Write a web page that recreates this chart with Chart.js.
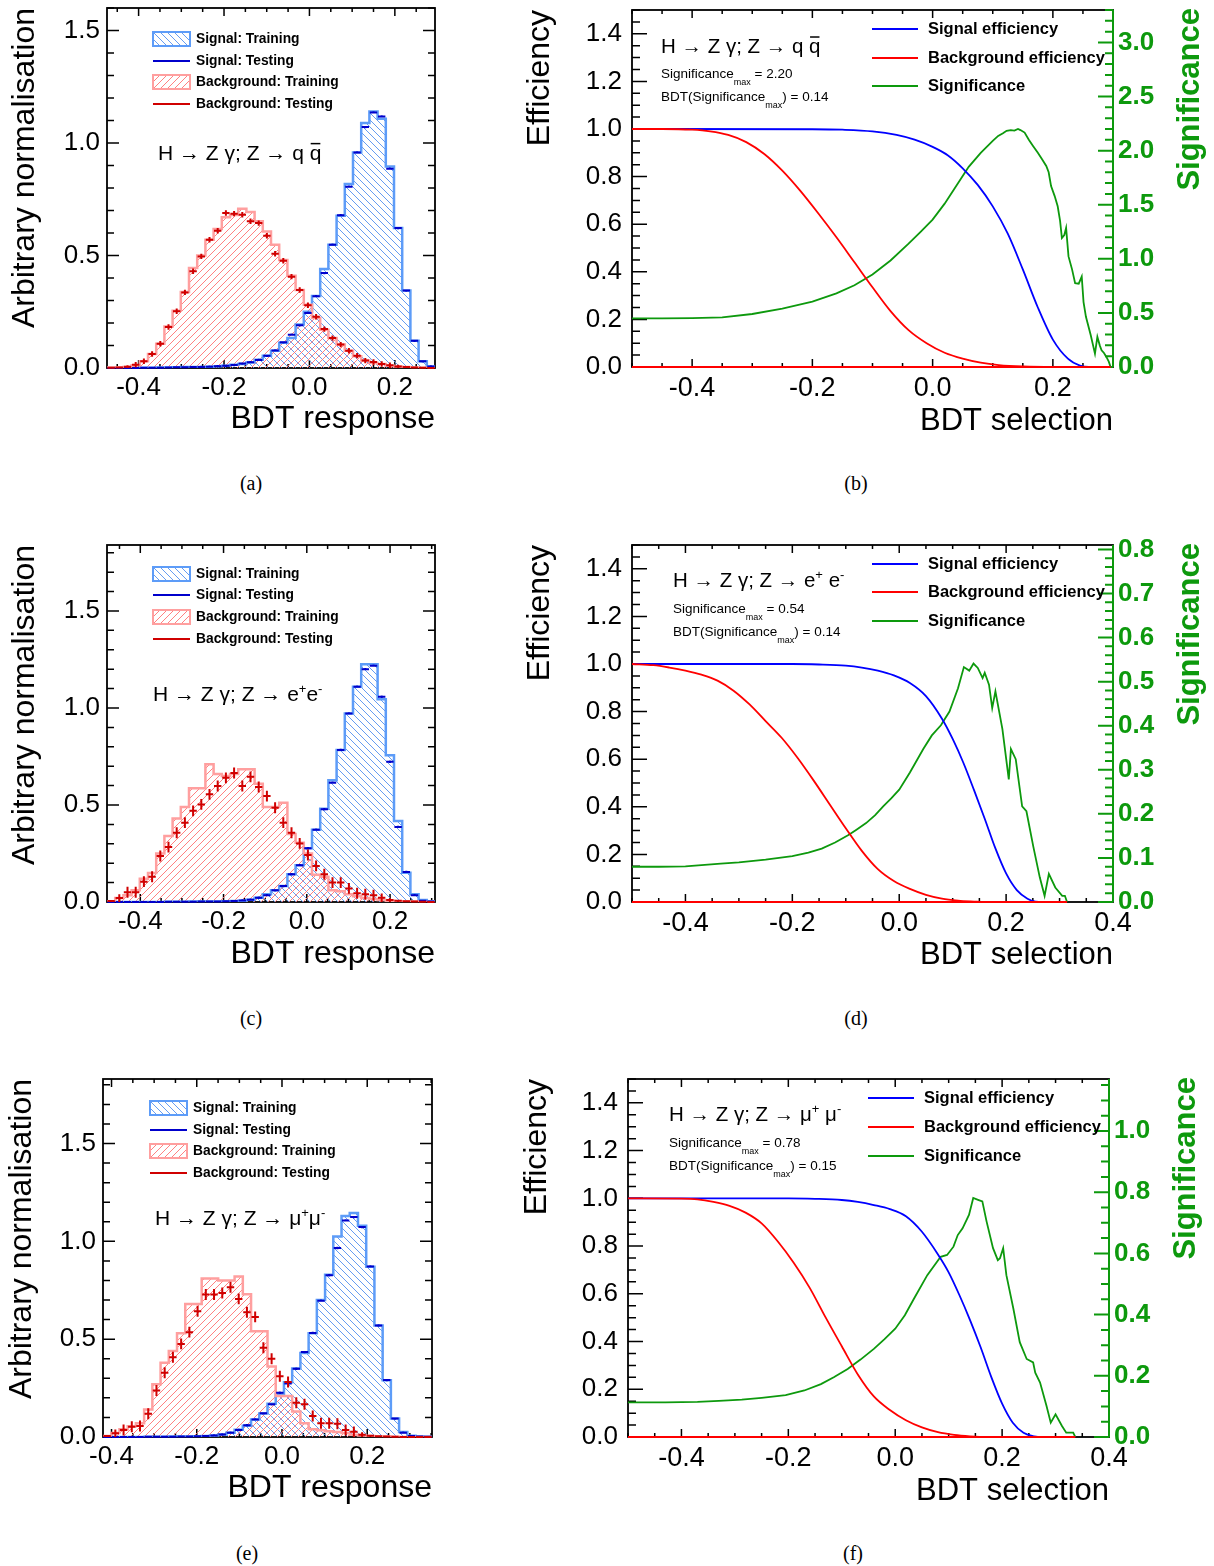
<!DOCTYPE html>
<html>
<head>
<meta charset="utf-8">
<script src="https://cdn.jsdelivr.net/npm/chart.js@4.4.0/dist/chart.umd.min.js"></script>
<style>
  body { margin: 0; background: #fff; }
  #page { position: relative; width: 1214px; height: 1566px; overflow: hidden; }
  canvas { position: absolute; }
  .cap { position: absolute; font: 20px 'Liberation Serif', 'Times New Roman', serif; transform: translate(-50%, -50%); }
</style>
</head>
<body>
<div id="page">
  <canvas id="pa" width="470" height="450" style="left:0px;top:0px"></canvas>
  <canvas id="pb" width="714" height="450" style="left:500px;top:0px"></canvas>
  <canvas id="pc" width="470" height="450" style="left:0px;top:535px"></canvas>
  <canvas id="pd" width="714" height="450" style="left:500px;top:535px"></canvas>
  <canvas id="pe" width="470" height="450" style="left:0px;top:1070px"></canvas>
  <canvas id="pf" width="714" height="450" style="left:500px;top:1070px"></canvas>
  <div class="cap" style="left:251px;top:483px">(a)</div>
  <div class="cap" style="left:856px;top:483px">(b)</div>
  <div class="cap" style="left:251px;top:1018px">(c)</div>
  <div class="cap" style="left:856px;top:1018px">(d)</div>
  <div class="cap" style="left:247px;top:1553px">(e)</div>
  <div class="cap" style="left:853px;top:1553px">(f)</div>
</div>
<script>
// ---- BDT response histograms (40 bins each) ----
const rangeA = [-0.474, 0.294];
const sigTrainA = [0, 0, 0, 0, 0.001, 0.001, 0.002, 0.002, 0.003, 0.004,
  0.004, 0.005, 0.006, 0.008, 0.01, 0.014, 0.018, 0.025, 0.037, 0.055,
  0.077, 0.112, 0.133, 0.193, 0.25, 0.32, 0.44, 0.548, 0.677, 0.818,
  0.958, 1.089, 1.14, 1.108, 0.896, 0.622, 0.344, 0.121, 0.03, 0.007];
const sigTestA = [0, 0, 0, 0, 0.001, 0.001, 0.001, 0.002, 0.003, 0.003,
  0.004, 0.005, 0.006, 0.008, 0.01, 0.013, 0.02, 0.026, 0.036, 0.054,
  0.078, 0.114, 0.148, 0.19, 0.245, 0.319, 0.422, 0.548, 0.679, 0.806,
  0.958, 1.071, 1.136, 1.118, 0.886, 0.622, 0.344, 0.121, 0.03, 0.007];
const bkgTrainA = [0.002, 0.003, 0.005, 0.012, 0.03, 0.062, 0.108, 0.185, 0.255, 0.338,
  0.444, 0.5, 0.57, 0.618, 0.67, 0.68, 0.708, 0.693, 0.652, 0.607,
  0.548, 0.48, 0.41, 0.347, 0.281, 0.222, 0.17, 0.133, 0.104, 0.077,
  0.052, 0.033, 0.022, 0.018, 0.01, 0.007, 0.004, 0.002, 0.001, 0];
const bkgTestA = [0.001, 0.002, 0.006, 0.015, 0.03, 0.062, 0.108, 0.182, 0.252, 0.336,
  0.43, 0.496, 0.57, 0.61, 0.689, 0.686, 0.681, 0.652, 0.644, 0.588,
  0.508, 0.477, 0.406, 0.347, 0.279, 0.228, 0.173, 0.133, 0.104, 0.077,
  0.055, 0.033, 0.027, 0.018, 0.012, 0.007, 0.004, 0.002, 0.001, 0];
const errA = [0.005, 0.012]; // signal, background test error

const rangeC = [-0.48, 0.308];
const sigTrainC = [0, 0, 0, 0, 0, 0, 0, 0.001, 0.001, 0.001,
  0.002, 0.002, 0.003, 0.003, 0.004, 0.005, 0.007, 0.012, 0.022, 0.04,
  0.06, 0.082, 0.143, 0.19, 0.277, 0.373, 0.481, 0.627, 0.784, 0.972,
  1.11, 1.225, 1.225, 1.045, 0.756, 0.418, 0.151, 0.04, 0.01, 0.004];
const sigTestC = [0, 0, 0, 0, 0, 0, 0, 0.001, 0.001, 0.001,
  0.001, 0.002, 0.002, 0.003, 0.004, 0.005, 0.008, 0.012, 0.022, 0.035,
  0.06, 0.082, 0.143, 0.19, 0.277, 0.373, 0.478, 0.615, 0.784, 0.972,
  1.11, 1.2, 1.218, 1.058, 0.723, 0.387, 0.155, 0.035, 0.006, 0.002];
const bkgTrainC = [0.004, 0.02, 0.035, 0.06, 0.12, 0.15, 0.25, 0.34, 0.43, 0.49,
  0.586, 0.586, 0.71, 0.66, 0.65, 0.66, 0.684, 0.684, 0.61, 0.49,
  0.49, 0.512, 0.35, 0.305, 0.25, 0.14, 0.13, 0.06, 0.055, 0.04,
  0.03, 0.02, 0.015, 0.01, 0.006, 0.004, 0.003, 0.002, 0.001, 0];
const bkgTestC = [0.005, 0.02, 0.05, 0.05, 0.105, 0.13, 0.237, 0.283, 0.357, 0.409,
  0.47, 0.503, 0.555, 0.598, 0.64, 0.665, 0.598, 0.645, 0.593, 0.546,
  0.486, 0.409, 0.357, 0.302, 0.242, 0.186, 0.143, 0.1, 0.1, 0.07,
  0.045, 0.04, 0.035, 0.022, 0.01, 0.006, 0.004, 0.002, 0.001, 0];
const errC = [0.006, 0.028];

const rangeE = [-0.42, 0.352];
const sigTrainE = [0, 0, 0, 0, 0, 0.001, 0.001, 0.001, 0.002, 0.002,
  0.003, 0.004, 0.005, 0.008, 0.013, 0.022, 0.037, 0.058, 0.09, 0.12,
  0.17, 0.22, 0.28, 0.35, 0.43, 0.53, 0.7, 0.83, 1.025, 1.13,
  1.145, 1.08, 0.87, 0.57, 0.29, 0.095, 0.025, 0.006, 0.002, 0.001];
const sigTestE = [0, 0, 0, 0, 0, 0.001, 0.001, 0.001, 0.001, 0.002,
  0.003, 0.004, 0.005, 0.008, 0.013, 0.022, 0.036, 0.06, 0.09, 0.121,
  0.167, 0.226, 0.274, 0.349, 0.434, 0.532, 0.697, 0.827, 0.966, 1.107,
  1.124, 1.073, 0.872, 0.57, 0.291, 0.094, 0.022, 0.005, 0.002, 0.001];
const bkgTrainE = [0.005, 0.02, 0.04, 0.055, 0.07, 0.14, 0.27, 0.38, 0.44, 0.53,
  0.68, 0.68, 0.81, 0.81, 0.8, 0.8, 0.82, 0.73, 0.54, 0.54,
  0.36, 0.21, 0.21, 0.13, 0.07, 0.04, 0.035, 0.03, 0.025, 0.02,
  0.012, 0.008, 0.005, 0.003, 0.002, 0.001, 0, 0, 0, 0];
const bkgTestE = [0.005, 0.019, 0.036, 0.052, 0.056, 0.119, 0.238, 0.328, 0.408, 0.476,
  0.536, 0.643, 0.728, 0.728, 0.736, 0.765, 0.706, 0.638, 0.614, 0.456,
  0.4, 0.311, 0.281, 0.175, 0.167, 0.107, 0.07, 0.07, 0.068, 0.036,
  0.027, 0.012, 0.006, 0.004, 0.002, 0.001, 0, 0, 0, 0];
const errE = [0.006, 0.028];

// ---- efficiency / significance vs BDT cut ----
const sigEffXB = [-0.5, -0.2, -0.15, -0.1, -0.06, -0.03, 0, 0.025, 0.05, 0.075, 0.1, 0.125, 0.15, 0.175, 0.2, 0.225, 0.245, 0.26, 0.296];
const sigEffB = [1, 0.999, 0.997, 0.99, 0.975, 0.955, 0.925, 0.89, 0.835, 0.765, 0.675, 0.56, 0.41, 0.25, 0.115, 0.035, 0.006, 0, 0];
const bkgEffXB = [-0.5, -0.45, -0.4, -0.37, -0.34, -0.31, -0.28, -0.25, -0.22, -0.19, -0.16, -0.13, -0.1, -0.07, -0.04, -0.01, 0.02, 0.05, 0.08, 0.11, 0.15, 0.2, 0.296];
const bkgEffB = [1, 1, 0.997, 0.99, 0.975, 0.945, 0.895, 0.825, 0.74, 0.645, 0.545, 0.44, 0.335, 0.235, 0.155, 0.1, 0.06, 0.035, 0.018, 0.008, 0.002, 0, 0];
const signifXB = [-0.5, -0.45, -0.4, -0.35, -0.3, -0.25, -0.2, -0.16, -0.13, -0.1, -0.07, -0.04, -0.02, 0, 0.02, 0.04, 0.06, 0.08, 0.1, 0.109, 0.117, 0.123, 0.13, 0.136, 0.142, 0.146, 0.153, 0.16, 0.167, 0.175, 0.182, 0.189, 0.193, 0.197, 0.203, 0.208, 0.212, 0.215, 0.219, 0.222, 0.226, 0.232, 0.237, 0.243, 0.248, 0.251, 0.255, 0.263, 0.27, 0.274, 0.278, 0.281, 0.285, 0.289, 0.293, 0.296];
const signifB = [0.449, 0.45, 0.452, 0.459, 0.49, 0.54, 0.604, 0.68, 0.755, 0.855, 0.985, 1.14, 1.25, 1.362, 1.51, 1.68, 1.85, 1.98, 2.09, 2.136, 2.16, 2.183, 2.19, 2.185, 2.2, 2.19, 2.167, 2.1, 2.043, 1.98, 1.92, 1.858, 1.8, 1.672, 1.58, 1.486, 1.35, 1.192, 1.22, 1.285, 1.022, 0.9, 0.774, 0.77, 0.836, 0.6, 0.464, 0.294, 0.124, 0.279, 0.2, 0.155, 0.13, 0.093, 0.05, 0];

const sigEffXD = [-0.5, -0.2, -0.15, -0.1, -0.07, -0.04, -0.01, 0.02, 0.05, 0.08, 0.1, 0.12, 0.14, 0.16, 0.18, 0.2, 0.22, 0.24, 0.255, 0.27, 0.314];
const sigEffD = [1, 1, 0.998, 0.993, 0.985, 0.972, 0.952, 0.92, 0.865, 0.77, 0.685, 0.585, 0.47, 0.35, 0.225, 0.12, 0.05, 0.014, 0.002, 0, 0];
const bkgEffXD = [-0.5, -0.46, -0.43, -0.4, -0.37, -0.34, -0.31, -0.28, -0.25, -0.22, -0.19, -0.16, -0.13, -0.1, -0.07, -0.04, -0.01, 0.02, 0.05, 0.08, 0.11, 0.14, 0.16, 0.314];
const bkgEffD = [1, 0.995, 0.985, 0.972, 0.955, 0.93, 0.888, 0.83, 0.76, 0.69, 0.605, 0.51, 0.41, 0.31, 0.215, 0.138, 0.088, 0.055, 0.03, 0.014, 0.006, 0.002, 0, 0];
const signifXD = [-0.5, -0.45, -0.4, -0.334, -0.3, -0.25, -0.2, -0.17, -0.145, -0.12, -0.095, -0.08, -0.062, -0.045, -0.03, -0.015, 0, 0.02, 0.045, 0.061, 0.078, 0.094, 0.11, 0.121, 0.131, 0.139, 0.147, 0.156, 0.16, 0.168, 0.174, 0.18, 0.193, 0.205, 0.209, 0.218, 0.23, 0.238, 0.251, 0.263, 0.272, 0.28, 0.292, 0.305, 0.31, 0.314];
const signifD = [0.08, 0.08, 0.081, 0.087, 0.09, 0.096, 0.104, 0.112, 0.121, 0.135, 0.152, 0.164, 0.179, 0.197, 0.217, 0.235, 0.255, 0.294, 0.347, 0.378, 0.401, 0.432, 0.485, 0.533, 0.525, 0.541, 0.531, 0.508, 0.52, 0.493, 0.44, 0.478, 0.393, 0.278, 0.347, 0.324, 0.217, 0.206, 0.125, 0.056, 0.014, 0.064, 0.033, 0.014, 0.014, 0];

const sigEffXF = [-0.5, -0.2, -0.15, -0.1, -0.07, -0.04, -0.01, 0.02, 0.05, 0.08, 0.1, 0.12, 0.14, 0.16, 0.18, 0.2, 0.22, 0.24, 0.26, 0.275, 0.337];
const sigEffF = [1, 1, 0.998, 0.993, 0.985, 0.972, 0.955, 0.925, 0.86, 0.765, 0.69, 0.595, 0.49, 0.375, 0.25, 0.14, 0.06, 0.018, 0.003, 0, 0];
const bkgEffXF = [-0.5, -0.4, -0.37, -0.34, -0.31, -0.28, -0.25, -0.22, -0.19, -0.16, -0.13, -0.1, -0.07, -0.04, -0.01, 0.02, 0.05, 0.08, 0.11, 0.14, 0.17, 0.337];
const bkgEffF = [1, 0.999, 0.996, 0.985, 0.968, 0.94, 0.895, 0.82, 0.73, 0.625, 0.5, 0.38, 0.262, 0.17, 0.113, 0.07, 0.04, 0.02, 0.009, 0.003, 0, 0];
const signifXF = [-0.5, -0.43, -0.37, -0.33, -0.287, -0.25, -0.205, -0.17, -0.139, -0.115, -0.089, -0.065, -0.04, -0.02, 0, 0.018, 0.035, 0.06, 0.085, 0.097, 0.109, 0.117, 0.126, 0.138, 0.146, 0.155, 0.163, 0.171, 0.183, 0.192, 0.196, 0.202, 0.208, 0.221, 0.233, 0.246, 0.258, 0.262, 0.271, 0.283, 0.291, 0.3, 0.312, 0.32, 0.333, 0.337];
const signifF = [0.113, 0.113, 0.115, 0.118, 0.122, 0.128, 0.137, 0.152, 0.173, 0.195, 0.222, 0.253, 0.288, 0.32, 0.354, 0.398, 0.452, 0.529, 0.589, 0.595, 0.622, 0.66, 0.682, 0.726, 0.781, 0.775, 0.77, 0.704, 0.617, 0.578, 0.584, 0.617, 0.529, 0.42, 0.31, 0.255, 0.244, 0.21, 0.178, 0.102, 0.047, 0.074, 0.036, 0.014, 0.014, 0];

// tick labels
const histXTicks = [-0.4, -0.2, 0.0, 0.2];
const histYTicks = [0, 0.5, 1.0, 1.5];
const effYTicks = [0, 0.2, 0.4, 0.6, 0.8, 1.0, 1.2, 1.4];
const effXTicksB = [-0.4, -0.2, 0.0, 0.2];
const effXTicksDF = [-0.4, -0.2, 0.0, 0.2, 0.4];
const sigTicksB = [0, 0.5, 1.0, 1.5, 2.0, 2.5, 3.0];
const sigTicksD = [0, 0.1, 0.2, 0.3, 0.4, 0.5, 0.6, 0.7, 0.8];
const sigTicksF = [0, 0.2, 0.4, 0.6, 0.8, 1.0];

const FONT = "'Liberation Sans', Arial, Helvetica, sans-serif";
const GREEN = '#0d990d';
const SIG_HATCH = {color: 'rgba(85,145,240,0.9)', dir: -1, gap: 7};
const BKG_HATCH = {color: 'rgba(255,115,115,0.9)', dir: 1, gap: 7};
Chart.defaults.font.family = FONT;
Chart.defaults.color = '#000';

function histPoints(vals, lo, hi) {
  const w = (hi - lo) / vals.length;
  const pts = [{x: lo, y: 0}];
  vals.forEach((v, i) => pts.push({x: lo + i * w, y: v}));
  pts.push({x: hi, y: 0});
  return pts;
}
function binCenters(vals, lo, hi) {
  const w = (hi - lo) / vals.length;
  return vals.map((v, i) => ({x: lo + (i + 0.5) * w, y: v}));
}
function zip(xs, ys) { return xs.map((x, i) => ({x: x, y: ys[i]})); }

// diagonal hatching inside the current clip region
function hatchLines(ctx, box, h) {
  const H = box.bottom - box.top;
  ctx.strokeStyle = h.color;
  ctx.lineWidth = 1;
  ctx.beginPath();
  for (let c = -H; c < box.right - box.left + H; c += h.gap) {
    if (h.dir > 0) {
      ctx.moveTo(box.left + c, box.bottom); ctx.lineTo(box.left + c + H, box.top);
    } else {
      ctx.moveTo(box.left + c, box.top); ctx.lineTo(box.left + c + H, box.bottom);
    }
  }
  ctx.stroke();
}

// ROOT style frame with inward ticks on every side
function framePlugin(f) {
  return {
    id: 'rootFrame',
    beforeDatasetsDraw(chart) {
      const {ctx, chartArea: a, scales} = chart;
      const list = (s, step) => {
        const maj = s.ticks.map(t => t.value);
        const out = [];
        for (let k = Math.ceil(s.min / step - 1e-6); k * step <= s.max + 1e-9; k++) {
          const v = k * step;
          out.push({v: v, major: maj.some(m => Math.abs(m - v) < 1e-6)});
        }
        return out;
      };
      const seg = (x1, y1, x2, y2) => { ctx.moveTo(x1, y1); ctx.lineTo(x2, y2); };
      ctx.save();
      ctx.strokeStyle = '#000';
      ctx.lineWidth = 1.8;
      ctx.strokeRect(a.left, a.top, a.right - a.left, a.bottom - a.top);
      ctx.lineWidth = 1.5;
      ctx.beginPath();
      list(scales.x, f.xMinor).forEach(t => {
        const px = scales.x.getPixelForValue(t.v), len = t.major ? f.xLen[0] : f.xLen[1];
        seg(px, a.bottom, px, a.bottom - len);
        seg(px, a.top, px, a.top + len);
      });
      list(scales.y, f.yMinor).forEach(t => {
        const py = scales.y.getPixelForValue(t.v), len = t.major ? f.yLen[0] : f.yLen[1];
        seg(a.left, py, a.left + len, py);
        if (f.mirrorY) seg(a.right, py, a.right - len, py);
      });
      ctx.stroke();
      if (scales.y2) {
        ctx.strokeStyle = GREEN;
        ctx.lineWidth = 2;
        ctx.beginPath();
        seg(a.right, a.top, a.right, a.bottom);
        list(scales.y2, f.y2Minor).forEach(t => {
          const py = scales.y2.getPixelForValue(t.v), len = t.major ? f.yLen[0] : f.yLen[1];
          seg(a.right, py, a.right - len, py);
        });
        ctx.stroke();
      }
      if (f.redTo !== undefined) {
        ctx.strokeStyle = '#ff0000';
        ctx.lineWidth = 2;
        ctx.beginPath();
        seg(a.left, a.bottom, scales.x.getPixelForValue(f.redTo), a.bottom);
        ctx.stroke();
      }
      ctx.restore();
    }
  };
}

// hatched area under the stepped training histograms
const hatchFill = {
  id: 'hatchFill',
  beforeDatasetsDraw(chart) {
    const {ctx, chartArea: a} = chart;
    const base = chart.scales.y.getPixelForValue(0);
    chart.data.datasets.forEach((ds, i) => {
      if (!ds.hatch) return;
      const pts = chart.getDatasetMeta(i).data;
      ctx.save();
      ctx.beginPath();
      ctx.rect(a.left, a.top, a.right - a.left, a.bottom - a.top);
      ctx.clip();
      ctx.beginPath();
      ctx.moveTo(pts[0].x, base);
      for (let k = 1; k < pts.length; k++) {
        ctx.lineTo(pts[k].x, pts[k - 1].y);
        ctx.lineTo(pts[k].x, pts[k].y);
      }
      ctx.lineTo(pts[pts.length - 1].x, base);
      ctx.closePath();
      ctx.clip();
      hatchLines(ctx, a, ds.hatch);
      ctx.restore();
    });
  }
};

// test sample points drawn as crosses (bin width x error)
const errorBars = {
  id: 'errorBars',
  afterDatasetsDraw(chart) {
    const ctx = chart.ctx, xs = chart.scales.x, ys = chart.scales.y;
    chart.data.datasets.forEach((ds, i) => {
      if (!ds.errBar) return;
      ctx.save();
      ctx.strokeStyle = ds.borderColor;
      ctx.lineWidth = 2;
      ctx.beginPath();
      chart.getDatasetMeta(i).data.forEach((pt, j) => {
        const d = ds.data[j];
        const e = Math.min(ds.errBar.err, d.y);
        const xl = xs.getPixelForValue(d.x - ds.errBar.half), xr = xs.getPixelForValue(d.x + ds.errBar.half);
        ctx.moveTo(xl, pt.y); ctx.lineTo(xr, pt.y);
        if (e > 0) {
          ctx.moveTo(pt.x, ys.getPixelForValue(d.y + e));
          ctx.lineTo(pt.x, ys.getPixelForValue(d.y - e));
        }
      });
      ctx.stroke();
      ctx.restore();
    });
  }
};

// text with sub/superscripts, overline
function notesPlugin(items) {
  return {
    id: 'notes',
    afterDraw(chart) {
      const ctx = chart.ctx;
      ctx.save();
      ctx.textBaseline = 'alphabetic';
      ctx.textAlign = 'left';
      items.forEach(it => {
        let x = it.x;
        it.runs.forEach(r => {
          ctx.font = (r.bold ? 'bold ' : '') + r.s + 'px ' + FONT;
          ctx.fillStyle = r.color || '#000';
          ctx.fillText(r.t, x, it.y + (r.dy || 0));
          const w = ctx.measureText(r.t).width;
          if (r.bar) {
            ctx.strokeStyle = '#000';
            ctx.lineWidth = 1.5;
            ctx.beginPath();
            ctx.moveTo(x + 1, it.y - r.s * 0.78);
            ctx.lineTo(x + w - 1, it.y - r.s * 0.78);
            ctx.stroke();
          }
          x += w;
        });
      });
      if (chart.options.plugins.greenTitle) {
        const g = chart.options.plugins.greenTitle;
        ctx.translate(g.x, g.y);
        ctx.rotate(-Math.PI / 2);
        ctx.font = 'bold 31px ' + FONT;
        ctx.fillStyle = GREEN;
        ctx.textAlign = 'right';
        ctx.textBaseline = 'middle';
        ctx.fillText('Significance', 0, 0);
      }
      ctx.restore();
    }
  };
}

function legendPlugin(x, rows, boxW, gap, fontSize) {
  return {
    id: 'boxLegend',
    afterDraw(chart) {
      const ctx = chart.ctx;
      ctx.save();
      ctx.font = 'bold ' + fontSize + 'px ' + FONT;
      ctx.textBaseline = 'middle';
      ctx.textAlign = 'left';
      chart.data.datasets.forEach((d, i) => {
        const y = rows[i];
        if (d.hatch) {
          ctx.save();
          ctx.beginPath();
          ctx.rect(x, y - 7, boxW, 14);
          ctx.clip();
          hatchLines(ctx, {left: x, right: x + boxW, top: y - 7, bottom: y + 7}, d.hatch);
          ctx.restore();
          ctx.lineWidth = 2;
          ctx.strokeStyle = d.borderColor;
          ctx.strokeRect(x, y - 7, boxW, 14);
        } else {
          ctx.lineWidth = 2;
          ctx.strokeStyle = d.borderColor;
          ctx.beginPath();
          ctx.moveTo(x, y); ctx.lineTo(x + boxW, y);
          ctx.stroke();
        }
        ctx.fillStyle = '#000';
        ctx.fillText(d.label, x + boxW + gap, y);
      });
      ctx.restore();
    }
  };
}

const noPadY = s => { s.paddingTop = 0; s.paddingBottom = 0; };
const noPadX = s => { s.paddingLeft = 0; s.paddingRight = 0; };

function histChart(id, h) {
  const [lo, hi] = h.range;
  const half = (hi - lo) / h.sigTrain.length / 2 * 0.9;
  return new Chart(document.getElementById(id), {
    type: 'line',
    data: {
      datasets: [
        {label: 'Signal: Training', data: histPoints(h.sigTrain, lo, hi), stepped: true, fill: false,
         borderColor: '#5d9cf8', borderWidth: 2.5, hatch: SIG_HATCH, pointRadius: 0, order: 4},
        {label: 'Signal: Testing', type: 'scatter', data: binCenters(h.sigTest, lo, hi), showLine: false,
         borderColor: '#0000cc', pointRadius: 0, errBar: {err: h.err[0], half: half}, order: 2},
        {label: 'Background: Training', data: histPoints(h.bkgTrain, lo, hi), stepped: true, fill: false,
         borderColor: '#ff9f9f', borderWidth: 2.5, hatch: BKG_HATCH, pointRadius: 0, order: 3},
        {label: 'Background: Testing', type: 'scatter', data: binCenters(h.bkgTest, lo, hi), showLine: false,
         borderColor: '#d00000', pointRadius: 0, errBar: {err: h.err[1], half: half}, order: 1}
      ]
    },
    options: {
      responsive: false, animation: false, events: [],
      layout: {padding: {left: 0, top: h.top, right: 470 - h.right, bottom: 0}},
      scales: {
        x: {type: 'linear', min: lo, max: hi,
            afterFit: s => { s.height = 450 - h.bottom; noPadX(s); },
            afterBuildTicks: s => { s.ticks = histXTicks.map(v => ({value: v})); },
            grid: {display: false, drawTicks: false}, border: {display: false},
            ticks: {font: {size: 26}, padding: 4, maxRotation: 0, autoSkip: false, callback: v => v.toFixed(1)},
            title: {display: true, text: 'BDT response', align: 'end', font: {size: 32}, padding: {top: 0, bottom: h.xtPad}}},
        y: {min: 0, max: h.ymax,
            afterFit: s => { s.width = h.left; noPadY(s); },
            afterBuildTicks: s => { s.ticks = histYTicks.map(v => ({value: v})); },
            grid: {display: false, drawTicks: false}, border: {display: false},
            ticks: {font: {size: 26}, padding: 7, callback: v => v.toFixed(1)},
            title: {display: true, text: 'Arbitrary normalisation', align: 'end', font: {size: 32}, padding: {top: h.ytPad, bottom: 0}}}
      },
      plugins: {legend: {display: false}, tooltip: {enabled: false}}
    },
    plugins: [framePlugin({xMinor: 0.05, yMinor: 0.1, xLen: [8, 4], yLen: [12, 7], mirrorY: true}),
              hatchFill, errorBars, legendPlugin(h.legX, h.legRows, 37, 6, 13.8), notesPlugin(h.notes)]
  });
}

function effChart(id, p) {
  return new Chart(document.getElementById(id), {
    type: 'line',
    data: {
      datasets: [
        {label: 'Signal efficiency', data: zip(p.sigX, p.sig), borderColor: '#0000ff', borderWidth: 1.8,
         pointRadius: 0, cubicInterpolationMode: 'monotone', yAxisID: 'y', order: 2},
        {label: 'Background efficiency', data: zip(p.bkgX, p.bkg), borderColor: '#ff0000', borderWidth: 1.8,
         pointRadius: 0, cubicInterpolationMode: 'monotone', yAxisID: 'y', order: 1},
        {label: 'Significance', data: zip(p.sgnX, p.sgn), borderColor: GREEN, borderWidth: 1.8,
         pointRadius: 0, tension: 0, yAxisID: 'y2', order: 3}
      ]
    },
    options: {
      responsive: false, animation: false, events: [],
      layout: {padding: {left: 0, top: p.top, right: 0, bottom: 0}},
      scales: {
        x: {type: 'linear', min: -0.5, max: p.xmax,
            afterFit: s => { s.height = 450 - p.bottom; noPadX(s); },
            afterBuildTicks: s => { s.ticks = p.xTicks.map(v => ({value: v})); },
            grid: {display: false, drawTicks: false}, border: {display: false},
            ticks: {font: {size: 27}, padding: 5, maxRotation: 0, autoSkip: false, callback: v => v.toFixed(1)},
            title: {display: true, text: 'BDT selection', align: 'end', font: {size: 31}, padding: {top: 0, bottom: p.xtPad}}},
        y: {position: 'left', min: 0, max: 1.5,
            afterFit: s => { s.width = p.left; noPadY(s); },
            afterBuildTicks: s => { s.ticks = effYTicks.map(v => ({value: v})); },
            grid: {display: false, drawTicks: false}, border: {display: false},
            ticks: {font: {size: 26}, padding: 10, callback: v => v.toFixed(1)},
            title: {display: true, text: 'Efficiency', align: 'end', font: {size: 32}, padding: {top: p.ytPad, bottom: 0}}},
        y2: {position: 'right', min: 0, max: p.y2max,
            afterFit: s => { s.width = 714 - p.right; noPadY(s); },
            afterBuildTicks: s => { s.ticks = p.y2Ticks.map(v => ({value: v})); },
            grid: {display: false, drawTicks: false}, border: {display: false},
            ticks: {font: {size: 26, weight: 'bold'}, color: GREEN, padding: 5, callback: v => v.toFixed(1)}}
      },
      plugins: {legend: {display: false}, tooltip: {enabled: false}, greenTitle: {x: p.gx, y: p.gy}}
    },
    plugins: [framePlugin({xMinor: 0.05, yMinor: 0.05, y2Minor: p.y2Minor, xLen: [8, 4], yLen: [15, 8], mirrorY: false, redTo: p.bkgX[p.bkgX.length - 1]}),
              legendPlugin(p.legX, p.legRows, 46, 10, 16.5), notesPlugin(p.notes)]
  });
}

function sigNotes(x, y, smax, bdt) {
  return [
    {x: x, y: y, runs: [{t: 'Significance', s: 13.5}, {t: 'max', s: 9, dy: 7}, {t: ' = ' + smax, s: 13.5}]},
    {x: x, y: y + 23, runs: [{t: 'BDT(Significance', s: 13.5}, {t: 'max', s: 9, dy: 7}, {t: ') = ' + bdt, s: 13.5}]}
  ];
}

histChart('pa', {range: rangeA, sigTrain: sigTrainA, sigTest: sigTestA, bkgTrain: bkgTrainA, bkgTest: bkgTestA, err: errA,
  ymax: 1.6, top: 8, bottom: 368, left: 107, right: 435, xtPad: 12, ytPad: 6,
  legX: 153, legRows: [39, 61, 82, 104],
  notes: [{x: 158, y: 160, runs: [{t: 'H \u2192 Z \u03b3; Z \u2192 q ', s: 21}, {t: 'q', s: 21, bar: true}]}]});

histChart('pc', {range: rangeC, sigTrain: sigTrainC, sigTest: sigTestC, bkgTrain: bkgTrainC, bkgTest: bkgTestC, err: errC,
  ymax: 1.84, top: 10, bottom: 367, left: 107, right: 435, xtPad: 12, ytPad: 6,
  legX: 153, legRows: [39, 60, 82, 104],
  notes: [{x: 153, y: 166, runs: [{t: 'H \u2192 Z \u03b3; Z \u2192 e', s: 21}, {t: '+', s: 13, dy: -8}, {t: 'e', s: 21}, {t: '-', s: 13, dy: -8}]}]});

histChart('pe', {range: rangeE, sigTrain: sigTrainE, sigTest: sigTestE, bkgTrain: bkgTrainE, bkgTest: bkgTestE, err: errE,
  ymax: 1.83, top: 9, bottom: 367, left: 103, right: 432, xtPad: 13, ytPad: 3,
  legX: 150, legRows: [38, 60, 81, 103],
  notes: [{x: 155, y: 155, runs: [{t: 'H \u2192 Z \u03b3; Z \u2192 \u03bc', s: 21}, {t: '+', s: 13, dy: -8}, {t: '\u03bc', s: 21}, {t: '-', s: 13, dy: -8}]}]});

effChart('pb', {sigX: sigEffXB, sig: sigEffB, bkgX: bkgEffXB, bkg: bkgEffB, sgnX: signifXB, sgn: signifB,
  xmax: 0.3, xTicks: effXTicksB, y2max: 3.3, y2Ticks: sigTicksB, y2Minor: 0.1,
  top: 10, bottom: 367, left: 132, right: 613, xtPad: 10, ytPad: 21, gx: 690, gy: 8,
  legX: 372, legRows: [29, 58, 86],
  notes: [{x: 161, y: 53, runs: [{t: 'H \u2192 Z \u03b3; Z \u2192 q ', s: 20.5}, {t: 'q', s: 20.5, bar: true}]}].concat(sigNotes(161, 78, '2.20', '0.14'))});

effChart('pd', {sigX: sigEffXD, sig: sigEffD, bkgX: bkgEffXD, bkg: bkgEffD, sgnX: signifXD, sgn: signifD,
  xmax: 0.4, xTicks: effXTicksDF, y2max: 0.81, y2Ticks: sigTicksD, y2Minor: 0.02,
  top: 10, bottom: 367, left: 132, right: 613, xtPad: 11, ytPad: 21, gx: 690, gy: 8,
  legX: 372, legRows: [29, 57, 86],
  notes: [{x: 173, y: 52, runs: [{t: 'H \u2192 Z \u03b3; Z \u2192 e', s: 20.5}, {t: '+', s: 13, dy: -8}, {t: ' e', s: 20.5}, {t: '-', s: 13, dy: -8}]}].concat(sigNotes(173, 78, '0.54', '0.14'))});

effChart('pf', {sigX: sigEffXF, sig: sigEffF, bkgX: bkgEffXF, bkg: bkgEffF, sgnX: signifXF, sgn: signifF,
  xmax: 0.4, xTicks: effXTicksDF, y2max: 1.17, y2Ticks: sigTicksF, y2Minor: 0.05,
  top: 9, bottom: 367, left: 128, right: 609, xtPad: 10, ytPad: 18, gx: 686, gy: 7,
  legX: 368, legRows: [28, 57, 86],
  notes: [{x: 169, y: 51, runs: [{t: 'H \u2192 Z \u03b3; Z \u2192 \u03bc', s: 20.5}, {t: '+', s: 13, dy: -8}, {t: ' \u03bc', s: 20.5}, {t: '-', s: 13, dy: -8}]}].concat(sigNotes(169, 77, '0.78', '0.15'))});
</script>
</body>
</html>
